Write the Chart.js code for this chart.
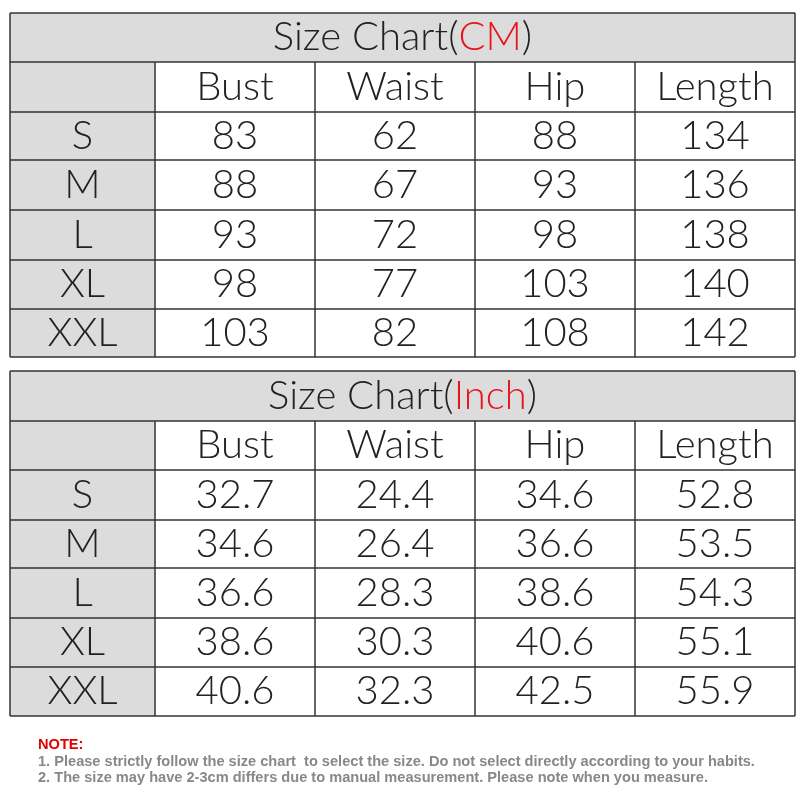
<!DOCTYPE html>
<html><head><meta charset="utf-8">
<script src="https://cdn.jsdelivr.net/npm/chart.js@4"></script>
<style>body{margin:0;background:#fff}</style>
</head><body>
<canvas id="c" width="800" height="800"></canvas>
<script>
const sizes = ["S","M","L","XL","XXL"];
const measures = ["Bust","Waist","Hip","Length"];
const cmBust = ["83","88","93","98","103"];
const cmWaist = ["62","67","72","77","82"];
const cmHip = ["88","93","98","103","108"];
const cmLength = ["134","136","138","140","142"];
const inBust = ["32.7","34.6","36.6","38.6","40.6"];
const inWaist = ["24.4","26.4","28.3","30.3","32.3"];
const inHip = ["34.6","36.6","38.6","40.6","42.5"];
const inLength = ["52.8","53.5","54.3","55.1","55.9"];
const notes = ["NOTE:",
 "1. Please strictly follow the size chart  to select the size. Do not select directly according to your habits.",
 "2. The size may have 2-3cm differs due to manual measurement. Please note when you measure."];

const colX = [10,155,315,475,635,795];
const rowY1 = [13,62,112,160,210,260,309,357];
const rowY2 = [371,421,470,520,568,618,667,716];
const FONT = '300 40px "Lato","Open Sans",sans-serif';

const tables = [
  {unit:"CM", rows:rowY1, cols:[cmBust,cmWaist,cmHip,cmLength]},
  {unit:"Inch", rows:rowY2, cols:[inBust,inWaist,inHip,inLength]}
];

const tablePlugin = {
  id:'table',
  afterDraw(chart){
    const ctx = chart.ctx, xs = chart.scales.x, ys = chart.scales.y;
    const X = v=>xs.getPixelForValue(v), Y = v=>ys.getPixelForValue(v);
    ctx.save();
    tables.forEach(t=>{
      const r = t.rows;
      ctx.fillStyle = '#dcdcdc';
      ctx.fillRect(X(colX[0]),Y(r[0]),X(colX[5])-X(colX[0]),Y(r[1])-Y(r[0]));
      ctx.fillRect(X(colX[0]),Y(r[1]),X(colX[1])-X(colX[0]),Y(r[7])-Y(r[1]));
      ctx.strokeStyle = '#333'; ctx.lineWidth = 1.5;
      r.forEach(y=>{ctx.beginPath();ctx.moveTo(X(colX[0]),Y(y));ctx.lineTo(X(colX[5]),Y(y));ctx.stroke();});
      colX.forEach((x,i)=>{const top = (i===0||i===5)?r[0]:r[1];ctx.beginPath();ctx.moveTo(X(x),Y(top));ctx.lineTo(X(x),Y(r[7]));ctx.stroke();});
      ctx.font = FONT; ctx.textBaseline='middle';
      const a="Size Chart(", b=t.unit, c=")";
      const wa=ctx.measureText(a).width, wb=ctx.measureText(b).width, wc=ctx.measureText(c).width;
      let sx = X((colX[0]+colX[5])/2)-(wa+wb+wc)/2, ty = Y((r[0]+r[1])/2);
      ctx.textAlign='left';
      ctx.fillStyle='#222'; ctx.fillText(a,sx,ty);
      ctx.fillStyle='#e8141b'; ctx.fillText(b,sx+wa,ty);
      ctx.fillStyle='#222'; ctx.fillText(c,sx+wa+wb,ty);
      ctx.textAlign='center';
      measures.forEach((m,i)=>ctx.fillText(m,X((colX[i+1]+colX[i+2])/2),Y((r[1]+r[2])/2)));
      sizes.forEach((s,j)=>{
        const cy = Y((r[j+2]+r[j+3])/2);
        ctx.fillText(s,X((colX[0]+colX[1])/2),cy);
        t.cols.forEach((col,i)=>ctx.fillText(col[j],X((colX[i+1]+colX[i+2])/2),cy));
      });
    });
    ctx.textAlign='left';
    ctx.font='bold 14.6px "Liberation Sans",Arial,sans-serif';
    ctx.fillStyle='#e00000'; ctx.fillText(notes[0],X(38),Y(745));
    ctx.fillStyle='#888';
    ctx.fillText(notes[1],X(38),Y(762));
    ctx.fillText(notes[2],X(38),Y(778));
    ctx.restore();
  }
};

new Chart(document.getElementById('c'),{
  type:'scatter',
  data:{datasets:[{data:[]}]},
  options:{
    responsive:false, animation:false,
    layout:{padding:0},
    plugins:{legend:{display:false},tooltip:{enabled:false}},
    scales:{
      x:{type:'linear',min:0,max:800,display:false},
      y:{type:'linear',min:0,max:800,reverse:true,display:false}
    }
  },
  plugins:[tablePlugin]
});
</script>
</body></html>
